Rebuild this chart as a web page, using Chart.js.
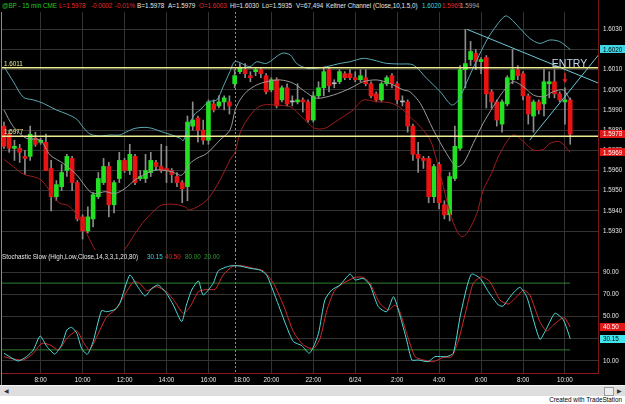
<!DOCTYPE html>
<html lang="en">
<head>
<meta charset="UTF-8">
<title>@BP - 15 min Keltner / Stochastic</title>
<style>
  body {
    margin: 0;
    width: 625px;
    height: 404px;
    overflow: hidden;
    position: relative;
    background: #000;
    font-family: "Liberation Sans", Arial, sans-serif;
  }
  canvas { position: absolute; left: 0; }
  #price { top: 12px; }
  #stoch { top: 250px; }
  .row { position: absolute; left: 0; height: 9px; font-size: 6.3px; line-height: 8px; white-space: nowrap; }
  .row span { position: absolute; top: 0; }
  .g { color: #22c822; }
  .r { color: #e42a2a; }
  .w { color: #e6e6e6; }
  .c { color: #3fd6e6; }
  .k { color: #a8a8a8; }
  .dg { color: #2f9a2f; }
  #edge { position: absolute; left: 598px; top: 0; width: 1px; height: 373px; background: #7a1616; }
  #leftEdge { position: absolute; left: 1px; top: 12px; width: 1px; height: 373px; background: #8a8a8a; }
  #scroll { position: absolute; left: 0; top: 385px; width: 625px; height: 11px; background: #dedede; border-top: 1px solid #f4f4f4; box-sizing: border-box; }
  #scroll .arrow { position: absolute; top: 1px; font-size: 6px; color: #333; }
  #thumb { position: absolute; left: 604px; top: 1px; width: 8px; height: 7px; background: #ececec; border: 1px solid #9a9a9a; }
  #foot { position: absolute; left: 0; top: 396px; width: 625px; height: 8px; background: #fff; }
  #foot span { position: absolute; right: 3px; top: 0; font-size: 6.3px; line-height: 8px; color: #000; }
</style>
<script src="https://cdn.jsdelivr.net/npm/chart.js"></script>
</head>
<body>
  <div class="row" style="top:2px">
    <span class="g" style="left:2px">@BP - 15 min</span>
    <span class="g" style="left:43px">CME</span>
    <span class="r" style="left:59px">L=1.5978</span>
    <span class="r" style="left:91px">-0.0002</span>
    <span class="r" style="left:115px">-0.01%</span>
    <span class="w" style="left:137px">B=1.5978</span>
    <span class="w" style="left:168px">A=1.5979</span>
    <span class="r" style="left:199px">O=1.6003</span>
    <span class="w" style="left:230px">Hi=1.6030</span>
    <span class="w" style="left:262px">Lo=1.5935</span>
    <span class="w" style="left:296px">V=67,494</span>
    <span class="w" style="left:326px">Keltner Channel (Close,10,1.5,0)</span>
    <span class="c" style="left:422px">1.6020</span>
    <span class="r" style="left:442px">1.5969</span>
    <span class="k" style="left:460px">1.5994</span>
  </div>

  <canvas id="price" width="625" height="238"></canvas>
  <canvas id="stoch" width="625" height="135"></canvas>

  <div class="row" style="top:253px">
    <span class="w" style="left:2px">Stochastic Slow (High,Low,Close,14,3,3,1,20,80)</span>
    <span class="c" style="left:147px">30.15</span>
    <span class="r" style="left:165px">40.50</span>
    <span class="dg" style="left:185px">80.00</span>
    <span class="dg" style="left:204px">20.00</span>
  </div>

  <div id="edge"></div>
  <div id="leftEdge"></div>
  <div id="scroll">
    <span class="arrow" style="left:4px">&#9664;</span>
    <div id="thumb"></div>
    <span class="arrow" style="left:617px">&#9654;</span>
  </div>
  <div id="foot"><span>Created with TradeStation</span></div>

<script>
// 15 min bars, index 0 = first bar on screen
const opens = [1.5982,1.5978,1.5971,1.5971,1.5967,1.5967,1.5976,1.5974,1.5974,1.5961,
  1.5947,1.5952,1.5960,1.5966,1.5954,1.5937,1.5930,1.5936,1.5947,1.5954,
  1.5962,1.5943,1.5956,1.5965,1.5960,1.5967,1.5956,1.5956,1.5959,1.5964,
  1.5962,1.5961,1.5960,1.5957,1.5954,1.5952,1.5982,1.5986,1.5980,1.5975,
  1.5993,1.5992,1.5994,1.5994,1.6003,1.6009,1.6010,1.6007,1.6009,1.6010,
  1.6007,1.6000,1.6005,1.5995,1.6001,1.5994,1.5994,1.5995,1.5994,1.5985,
  1.5997,1.6001,1.6010,1.6003,1.6004,1.6008,1.6008,1.6006,1.6005,1.6006,
  1.6003,1.5998,1.5995,1.6003,1.6007,1.6003,1.5994,1.5994,1.5982,1.5968,
  1.5966,1.5966,1.5947,1.5963,1.5943,1.5938,1.5956,1.5971,1.6010,1.6015,
  1.6018,1.6014,1.6016,1.5999,1.5994,1.5983,1.5993,1.6005,1.6010,1.6008,
  1.5997,1.5987,1.5994,1.5993,1.6003,1.6004,1.5998,1.5994,1.5995];
const highs = [1.5984,1.5980,1.5975,1.5973,1.5970,1.5982,1.5979,1.5976,1.5978,1.5965,
  1.5955,1.5963,1.5968,1.5967,1.5955,1.5938,1.5942,1.5949,1.5959,1.5966,
  1.5964,1.5955,1.5969,1.5966,1.5973,1.5968,1.5960,1.5968,1.5969,1.5965,
  1.5973,1.5972,1.5961,1.5959,1.5955,1.5987,1.5994,1.5987,1.5985,1.5995,
  1.5995,1.5997,1.5997,1.5997,1.6010,1.6013,1.6013,1.6009,1.6011,1.6011,
  1.6008,1.6006,1.6006,1.6002,1.6003,1.5997,1.6003,1.5996,1.5995,1.5999,
  1.6004,1.6011,1.6011,1.6005,1.6010,1.6009,1.6010,1.6009,1.6010,1.6010,
  1.6004,1.5999,1.6004,1.6007,1.6008,1.6004,1.5997,1.5995,1.5983,1.5974,
  1.5967,1.5967,1.5963,1.5964,1.5945,1.5959,1.5982,1.6012,1.6030,1.6024,
  1.6020,1.6016,1.6017,1.6000,1.5995,1.5995,1.6007,1.6020,1.6012,1.6009,
  1.5998,1.5995,1.5995,1.6010,1.6009,1.6010,1.5999,1.6001,1.5996];
const lows = [1.5971,1.5969,1.5965,1.5964,1.5958,1.5965,1.5972,1.5973,1.5960,1.5940,
  1.5945,1.5950,1.5957,1.5950,1.5935,1.5926,1.5929,1.5932,1.5946,1.5953,
  1.5937,1.5939,1.5954,1.5959,1.5958,1.5953,1.5955,1.5954,1.5957,1.5960,
  1.5959,1.5954,1.5954,1.5952,1.5944,1.5945,1.5980,1.5974,1.5973,1.5973,
  1.5989,1.5991,1.5990,1.5988,1.6001,1.6008,1.6006,1.6004,1.6007,1.6006,
  1.5998,1.5999,1.5991,1.5994,1.5992,1.5992,1.5993,1.5989,1.5984,1.5984,
  1.5996,1.5997,1.5999,1.6001,1.6003,1.6005,1.6005,1.6004,1.6004,1.6002,
  1.5996,1.5994,1.5994,1.6002,1.6001,1.5993,1.5992,1.5979,1.5965,1.5959,
  1.5961,1.5944,1.5944,1.5941,1.5936,1.5935,1.5955,1.5970,1.6001,1.6012,
  1.6010,1.6008,1.5991,1.5991,1.5982,1.5979,1.5992,1.6003,1.6005,1.5995,
  1.5983,1.5979,1.5988,1.5987,1.5996,1.5996,1.5994,1.5983,1.5973];
const closes = [1.5972,1.5971,1.5972,1.5969,1.5966,1.5978,1.5973,1.5975,1.5960,1.5947,
  1.5953,1.5959,1.5967,1.5954,1.5936,1.5930,1.5937,1.5948,1.5956,1.5962,
  1.5943,1.5954,1.5965,1.5960,1.5968,1.5954,1.5957,1.5960,1.5965,1.5962,
  1.5960,1.5960,1.5958,1.5954,1.5951,1.5984,1.5985,1.5980,1.5975,1.5994,
  1.5990,1.5994,1.5996,1.5992,1.6007,1.6011,1.6008,1.6006,1.6010,1.6008,
  1.5999,1.6005,1.5992,1.6001,1.5993,1.5994,1.5995,1.5994,1.5985,1.5997,
  1.6001,1.6009,1.6002,1.6003,1.6009,1.6006,1.6006,1.6005,1.6007,1.6003,
  1.5997,1.5995,1.6003,1.6006,1.6003,1.5995,1.5994,1.5982,1.5968,1.5966,
  1.5965,1.5947,1.5962,1.5944,1.5938,1.5957,1.5972,1.6010,1.6013,1.6019,
  1.6014,1.6015,1.5998,1.5994,1.5985,1.5994,1.6006,1.6010,1.6007,1.5997,
  1.5988,1.5994,1.5990,1.6004,1.6004,1.5998,1.5995,1.5995,1.5978];

// Keltner Channel (Close,10,1.5,0) read at bar positions
const keltUpX = [0,1.8,3.7,5.6,7.5,10,12,13.9,15.1,16.4,18.3,20.2,22.1,23.4,25,26.9,28.2,30.1,32,33.6,34.2,35.2,36.4,37.4,39,40.6,41.8,43.1,44.1,46.9,48.2,50.1,53,54.6,55.8,57.7,59.6,61.6,64.1,66,68.5,70.4,73,75.5,78.1,80.6,83.2,85.4,86.7,88.3,90.2,92.1,94,95.6,96.5,98.4,100.3,102.2,104.1,106,108];
const keltUp = [1.60115,1.6004,1.59963,1.5995,1.59933,1.5990,1.5988,1.59854,1.59814,1.59781,1.59771,1.59776,1.59776,1.59792,1.59809,1.59814,1.59809,1.59792,1.59776,1.5976,1.59748,1.59817,1.5988,1.5990,1.59941,1.5995,1.60015,1.6009,1.6014,1.60115,1.60139,1.60131,1.60181,1.60173,1.60131,1.60107,1.60107,1.60115,1.60131,1.60139,1.60156,1.60148,1.60131,1.60128,1.60123,1.60057,1.59991,1.59925,1.5995,1.6004,1.60148,1.60247,1.60321,1.60366,1.60356,1.60305,1.60255,1.6023,1.60247,1.60239,1.6020];
const keltMidX = [0,1.8,4.3,6.9,8.8,11.3,13.9,16.4,17.7,19.3,21.2,23.1,25,26.9,28.8,30.1,32,33.9,35.5,36.8,38.7,41.2,43.1,44.1,45,46.3,48.2,50.1,52.7,55.2,57.7,59.6,62.8,66,68.5,71.1,73.6,76.2,77.4,79.4,81.9,84.4,86.3,87.6,89.5,91.4,93.3,95.2,97.1,99.1,101,102.9,104.8,106.7,108];
const keltMid = [1.5990,1.59817,1.59759,1.59751,1.59677,1.59635,1.59577,1.59495,1.59486,1.59495,1.59486,1.59511,1.59553,1.59582,1.59602,1.59602,1.59594,1.59577,1.59635,1.5966,1.59685,1.59751,1.5980,1.5990,1.59949,1.59991,1.60024,1.6004,1.60049,1.60032,1.59986,1.59958,1.59974,1.60007,1.6004,1.60049,1.60032,1.59999,1.59991,1.59933,1.59801,1.59685,1.59619,1.59635,1.59734,1.59834,1.59916,1.59991,1.6004,1.60015,1.59974,1.59966,1.59991,1.59999,1.59949];
const keltLowX = [0,1.8,3.7,5.6,6.9,8.2,9.4,10.7,12,13.2,14.5,15.8,16.4,17.7,20.2,22.1,23.4,25,26.9,28.8,30.1,32.6,34.5,35.5,38.7,41.2,43.1,44.1,45,46.3,48.2,49.5,52,54.6,55.8,57.7,59.3,61.2,62.8,64.7,66.6,68.5,71.1,73.6,75.5,77.4,79.4,81.3,82.5,83.8,85.1,86.3,87.3,88.3,90.2,91.4,93,94.6,97.1,99.1,101,102.9,104.1,106,108];
const keltLow = [1.59655,1.59619,1.59582,1.59569,1.59556,1.5952,1.5947,1.59437,1.59429,1.59404,1.59354,1.59288,1.59255,1.5920,1.5919,1.5919,1.59222,1.59288,1.59354,1.59404,1.59429,1.59432,1.5942,1.59404,1.59453,1.59553,1.59652,1.59693,1.59784,1.5985,1.59908,1.59925,1.59925,1.59916,1.59891,1.59842,1.59809,1.59809,1.59834,1.59867,1.5990,1.59949,1.59941,1.59936,1.59913,1.59867,1.59817,1.59751,1.59652,1.5952,1.59387,1.59305,1.59272,1.59288,1.59387,1.59503,1.59586,1.59685,1.59776,1.59743,1.59701,1.59705,1.59734,1.59743,1.5969];

// Stochastic Slow %K (cyan) and %D (red)
const stochKX = [0,2.7,4.3,5.6,6.9,8.2,9.7,11,12,12.9,13.9,14.8,15.9,17,18.6,19.6,21.2,22.1,24,25.3,26.9,28.2,29.4,31,32.3,33.9,34.8,35.8,37.1,38,39.9,40.9,43.1,45,46.9,48.8,50.1,52,53.9,55.2,56.8,58.2,59,60,61.2,62.5,64.1,66,67,68.5,69.8,71.4,73,74.3,75.5,76.8,77.8,79,80.9,82.2,84.4,85.7,87,88.3,89.2,90.8,92.4,94.3,95.2,96.8,98.4,99.7,102.2,103.5,105.1,106.7,108];
const stochK = [16.9,10.0,13.9,19.9,32.5,22.9,16.3,24.4,37.9,40.3,34.9,21.4,16.0,27.4,55.2,54.3,56.4,61.8,87.3,78.3,68.4,75.3,78.3,70.8,60.3,45.4,60.3,73.8,81.9,69.3,79.8,91.2,95.4,95.4,93.3,91.8,87.3,64.8,40.9,27.4,23.8,16.9,22.3,34.9,64.8,73.8,78.3,88.2,82.8,84.3,78.3,58.8,54.3,67.8,51.4,28.9,10.9,10.9,9.4,13.9,13.9,16.9,49.9,76.8,88.2,84.3,72.3,60.3,59.4,69.3,76.2,67.8,29.5,39.4,52.9,46.9,30.15];
const stochDX = [0,1.2,3.7,5.6,7.2,8.8,10.4,12,13.9,15.1,16.3,17.7,19.6,21.2,22.8,24.7,25.9,27.2,29.1,31,32.6,34.2,35.5,37.1,38.7,40.3,41.8,43.7,45.7,47.6,49.5,51.4,53.3,55.2,57.1,59,60.3,61.6,63.1,64.7,67,68.5,69.8,71.7,73.3,74.6,75.5,76.8,78.4,80,81.9,83.8,85.4,86.7,88.3,89.5,91.1,92.7,94.6,96.2,97.8,99.1,100.3,102.2,103.5,104.8,106.4,107,108];
const stochD = [13.9,12.4,10.9,16.9,25.9,24.4,19.9,30.4,37.0,27.4,19.9,31.9,49.9,55.8,67.8,81.3,79.8,73.2,76.8,72.3,63.3,52.8,58.8,72.3,74.4,74.4,87.3,95.4,95.4,93.3,90.9,79.8,60.3,36.4,24.4,21.0,30.4,55.8,73.8,79.8,85.2,85.2,79.8,61.8,55.8,60.3,54.3,34.9,13.9,10.9,9.4,13.3,13.9,28.9,58.8,79.8,85.8,81.3,64.8,61.2,67.8,73.8,69.3,45.4,37.0,42.4,48.4,48.6,40.5];
const stochLevels = [80, 20];

// axis labels
const tickIdx = [7, 15, 23, 31, 39, 45.4, 51, 59, 67, 75, 83, 91, 99, 107];
const tickLabels = ['8:00','10:00','12:00','14:00','16:00','18:00','20:00','22:00','6/24','2:00','4:00','6:00','8:00','10:00'];
const sessionBreak = 44;
const priceTicks = [1.5930,1.5940,1.5950,1.5960,1.5970,1.5980,1.5990,1.6000,1.6010,1.6020,1.6030];
const stochTicks = [10, 30, 50, 70, 90];

// drawings on the price chart
const levels = [1.6011, 1.5977];
const trendDownX = [88.3, 113.4], trendDownY = [1.6030, 1.60033];
const trendUpX = [100.3, 113.4], trendUpY = [1.59751, 1.60173];
const entryAt = [104.5, 1.6011];
const arrowAt = [107, 1.60085, 1.60033];

const xMin = -0.374, xMax = 113.3;
const FONT = '"Liberation Sans", Arial, sans-serif';
const GRID = '#333333';
const UP = '#22e022', DOWN = '#e81414', DOJI = '#bdbdbd';
const YELLOW = '#ecec92';
const last = a => a[a.length - 1];
const pts = (xs, ys) => xs.map((x, i) => ({ x: x, y: ys[i] }));

const bodyData = opens.map((o, i) => ({ x: i, y: [o, closes[i]] }));
const wickData = highs.map((h, i) => ({ x: i, y: [lows[i], h] }));
const bodyColors = opens.map((o, i) => closes[i] > o ? UP : (closes[i] < o ? DOWN : DOJI));
const lineEnd = opens.length - 1;

const gridX = c => (c.tick && c.tick.value === tickIdx[5]) ? 'rgba(0,0,0,0)' : GRID;

function drawBreak(chart) {
  const { ctx, chartArea: a, scales: { x } } = chart;
  const px = Math.round(x.getPixelForValue(sessionBreak)) + 0.5;
  ctx.save();
  ctx.strokeStyle = '#8c8c8c';
  ctx.lineWidth = 1;
  ctx.setLineDash([2, 2]);
  ctx.beginPath();
  ctx.moveTo(px, a.top);
  ctx.lineTo(px, a.bottom);
  ctx.stroke();
  ctx.restore();
}

function drawBoxes(chart, boxes) {
  const { ctx, chartArea: a, scales: { y } } = chart;
  ctx.save();
  ctx.font = '6.3px ' + FONT;
  ctx.textBaseline = 'middle';
  boxes.forEach(b => {
    const py = y.getPixelForValue(b.v);
    ctx.fillStyle = b.bg;
    ctx.fillRect(a.right + 2, Math.round(py - 4), chart.width - a.right - 2, 8);
    ctx.fillStyle = b.fg;
    ctx.fillText(b.text, a.right + 5, py + 0.5);
  });
  ctx.restore();
}

const priceNotes = {
  id: 'priceNotes',
  beforeDatasetsDraw(chart) { drawBreak(chart); },
  afterDatasetsDraw(chart) {
    const { ctx, chartArea: a, scales: { x, y } } = chart;
    ctx.save();
    ctx.font = '6.3px ' + FONT;
    ctx.fillStyle = YELLOW;
    ctx.textBaseline = 'alphabetic';
    levels.forEach(v => ctx.fillText(v.toFixed(4), a.left + 2, y.getPixelForValue(v) - 2));

    ctx.font = '10.5px ' + FONT;
    ctx.fillStyle = '#c6daee';
    ctx.fillText('ENTRY', x.getPixelForValue(entryAt[0]), y.getPixelForValue(entryAt[1]) - 1);

    const ax = x.getPixelForValue(arrowAt[0]);
    const yTop = y.getPixelForValue(arrowAt[1]);
    const yTip = y.getPixelForValue(arrowAt[2]);
    ctx.strokeStyle = '#e82020';
    ctx.fillStyle = '#e82020';
    ctx.lineWidth = 1.5;
    ctx.beginPath();
    ctx.moveTo(ax, yTop);
    ctx.lineTo(ax, yTip - 3);
    ctx.stroke();
    ctx.beginPath();
    ctx.moveTo(ax - 2.5, yTip - 4);
    ctx.lineTo(ax + 2.5, yTip - 4);
    ctx.lineTo(ax, yTip);
    ctx.closePath();
    ctx.fill();
    ctx.restore();
  },
  afterDraw(chart) {
    drawBoxes(chart, [
      { v: last(keltUp), text: last(keltUp).toFixed(4), bg: '#3fd6e6', fg: '#000' },
      { v: last(closes), text: last(closes).toFixed(4), bg: '#e01818', fg: '#fff' },
      { v: last(keltLow), text: last(keltLow).toFixed(4), bg: '#e01818', fg: '#fff' }
    ]);
  }
};

const stochNotes = {
  id: 'stochNotes',
  beforeDatasetsDraw(chart) { drawBreak(chart); },
  afterDraw(chart) {
    drawBoxes(chart, [
      { v: last(stochD), text: last(stochD).toFixed(2), bg: '#e01818', fg: '#fff' },
      { v: last(stochK), text: last(stochK).toFixed(2), bg: '#3fe6ee', fg: '#000' }
    ]);
  }
};

const lineDs = (data, color, width, tension) => ({
  type: 'line', data: data, borderColor: color, borderWidth: width,
  pointRadius: 0, tension: tension || 0, fill: false
});

// the axes keep the plot area exactly where the picture has it
const xScale = showLabels => ({
  type: 'linear', min: xMin, max: xMax, offset: false,
  afterBuildTicks: s => { s.ticks = tickIdx.map(v => ({ value: v })); },
  afterFit: s => { s.height = showLabels ? 12 : 0; s.paddingLeft = 0; s.paddingRight = 0; },
  ticks: {
    display: showLabels, autoSkip: false, maxRotation: 0, minRotation: 0,
    color: '#e6e6e6', padding: 3, font: { size: 6.3, family: FONT },
    callback: (v, i) => tickLabels[i]
  },
  grid: { color: gridX, drawTicks: false, offset: false },
  border: showLabels ? { display: true, color: '#8a1a1a', width: 1 } : { display: false }
});

const yScale = (min, max, ticks, digits) => ({
  position: 'right', min: min, max: max,
  afterBuildTicks: s => { s.ticks = ticks.map(v => ({ value: v })); },
  afterFit: s => { s.width = 27; s.paddingTop = 0; s.paddingBottom = 0; },
  ticks: { color: '#e6e6e6', padding: 5, font: { size: 6.3, family: FONT }, callback: v => v.toFixed(digits) },
  grid: { color: GRID, drawTicks: false },
  border: { display: false }
});

const baseOptions = {
  responsive: false,
  animation: false,
  layout: { padding: { left: 2, right: 0, top: 0, bottom: 0 } },
  plugins: { legend: { display: false }, tooltip: { enabled: false } }
};

new Chart(document.getElementById('price'), {
  type: 'bar',
  data: {
    datasets: [
      lineDs(pts([xMin, xMax], [levels[0], levels[0]]), YELLOW, 1.5),
      lineDs(pts([xMin, xMax], [levels[1], levels[1]]), YELLOW, 1.5),
      lineDs(pts(trendDownX, trendDownY), '#6cc6d6', 1),
      lineDs(pts(trendUpX, trendUpY), '#6cc6d6', 1),
      lineDs(pts(keltUpX, keltUp), '#5aa8b4', 1, 0.3),
      lineDs(pts(keltMidX, keltMid), '#9a9a9a', 1, 0.3),
      lineDs(pts(keltLowX, keltLow), '#a01c1c', 1, 0.3),
      {
        data: bodyData, backgroundColor: bodyColors, borderWidth: 0,
        grouped: false, barThickness: 4, maxBarThickness: 4, minBarLength: 1,
        categoryPercentage: 1, barPercentage: 1
      },
      {
        data: wickData, backgroundColor: '#8c8c8c', borderWidth: 0,
        grouped: false, barThickness: 1, maxBarThickness: 1,
        categoryPercentage: 1, barPercentage: 1
      }
    ]
  },
  options: Object.assign({}, baseOptions, {
    scales: { x: xScale(false), y: yScale(1.592058, 1.603858, priceTicks, 4) }
  }),
  plugins: [priceNotes]
});

new Chart(document.getElementById('stoch'), {
  type: 'line',
  data: {
    datasets: [
      lineDs(pts(stochKX, stochK), '#4fdada', 1, 0.2),
      lineDs(pts(stochDX, stochD), '#d42a2a', 1, 0.2),
      lineDs(pts([xMin, lineEnd], [stochLevels[0], stochLevels[0]]), '#2f7f2f', 1),
      lineDs(pts([xMin, lineEnd], [stochLevels[1], stochLevels[1]]), '#2f7f2f', 1)
    ]
  },
  options: Object.assign({}, baseOptions, {
    scales: { x: xScale(true), y: yScale(-0.79, 109.78, stochTicks, 2) }
  }),
  plugins: [stochNotes]
});
</script>
</body>
</html>
